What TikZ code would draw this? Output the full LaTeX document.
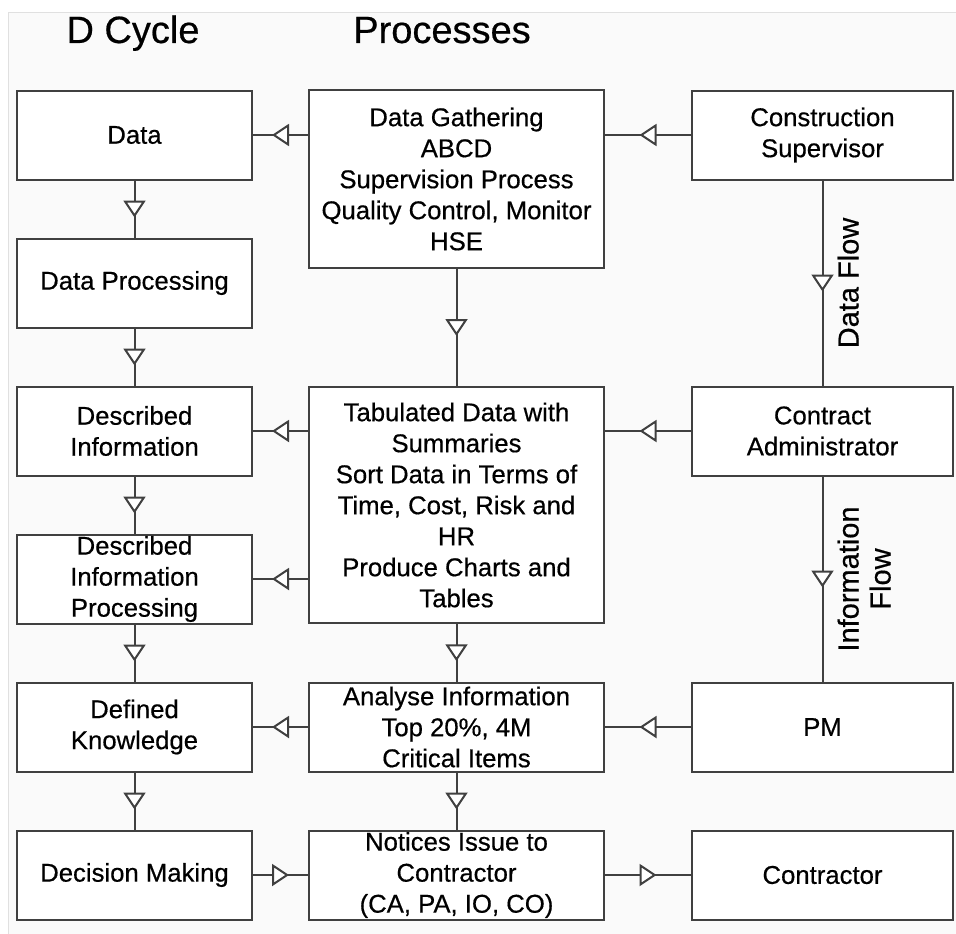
\documentclass[tikz,border=0pt]{standalone}
\usepackage{fontspec}
\setmainfont{Liberation Sans}[FakeBold=0.5]
\usetikzlibrary{arrows.meta,decorations.markings}

\tikzset{
  box/.style={draw=black!75, line width=2pt, fill=white, align=center, inner sep=0pt,
    minimum height=89pt, font=\fontsize{25.7}{31}\selectfont},
  flow/.style={draw=black!75, line width=2pt,
    decoration={markings, mark=at position 0.5 with {\arrow[xshift=8.5pt]{Triangle[length=17pt,width=22pt,fill=white]}}},
    postaction={decorate}},
  flowlabel/.style={rotate=90, anchor=north, inner sep=14pt, align=center, font=\fontsize{29}{32}\selectfont},
  heading/.style={anchor=base, font=\fontsize{38}{44}\selectfont},
}

\begin{document}
\begin{tikzpicture}[x=1pt,y=-1pt]
\useasboundingbox (0,0) rectangle (956,934);
% sheet
\fill[black!2] (8,13) rectangle (956,934);
\draw[black!12, line width=1pt] (8,934) -- (8,13) -- (956,13);
% headings
\node[heading] (hcycle) at (133,43) {D Cycle};
\node[heading] (hproc) at (442,43) {Processes};

% D cycle column
\foreach \n/\y/\t in {data/135/Data, dproc/283/Data Processing, dinfo/431/{Described\\Information},
    diproc/579/{Described\\Information\\Processing}, know/727/{Defined\\Knowledge}, decide/875/Decision Making}
  \node[box, minimum width=235pt] (\n) at (134.5,\y) {\t};

% processes column
\node[box, minimum width=295pt, minimum height=178pt] (gather) at (456.5,179)
  {Data Gathering\\ABCD\\Supervision Process\\Quality Control, Monitor\\HSE};
\node[box, minimum width=295pt, minimum height=236pt] (tab) at (456.5,505)
  {Tabulated Data with\\Summaries\\Sort Data in Terms of\\Time, Cost, Risk and\\HR\\Produce Charts and\\Tables};
\node[box, minimum width=295pt] (analyse) at (456.5,727) {Analyse Information\\Top 20\%, 4M\\Critical Items};
\node[box, minimum width=295pt] (notice) at (456.5,875) {Notices Issue to\\Contractor\\(CA, PA, IO, CO)};

% roles column
\node[box, minimum width=261pt] (super) at (822.5,135) {Construction\\Supervisor};
\node[box, minimum width=261pt] (admin) at (822.5,431) {Contract\\Administrator};
\node[box, minimum width=261pt] (pm) at (822.5,727) {PM};
\node[box, minimum width=261pt] (contractor) at (822.5,875) {Contractor};

% connectors
\foreach \from/\to in {data/dproc,dproc/dinfo,dinfo/diproc,diproc/know,know/decide,
    gather/tab,tab/analyse,analyse/notice,decide/notice,notice/contractor,pm/analyse,analyse/know}
  \draw[flow] (\from) -- (\to);
\draw[flow] (super.west) -- (super.west -| gather.east);
\draw[flow] (gather.west |- data) -- (data.east);
\draw[flow] (admin.west) -- (admin.west -| tab.east);
\draw[flow] (tab.west |- dinfo) -- (dinfo.east);
\draw[flow] (tab.west |- diproc) -- (diproc.east);
\draw[flow] (super) -- node[flowlabel] {Data Flow} (admin);
\draw[flow] (admin) -- node[flowlabel] {Information\\Flow} (pm);
\end{tikzpicture}
\end{document}
